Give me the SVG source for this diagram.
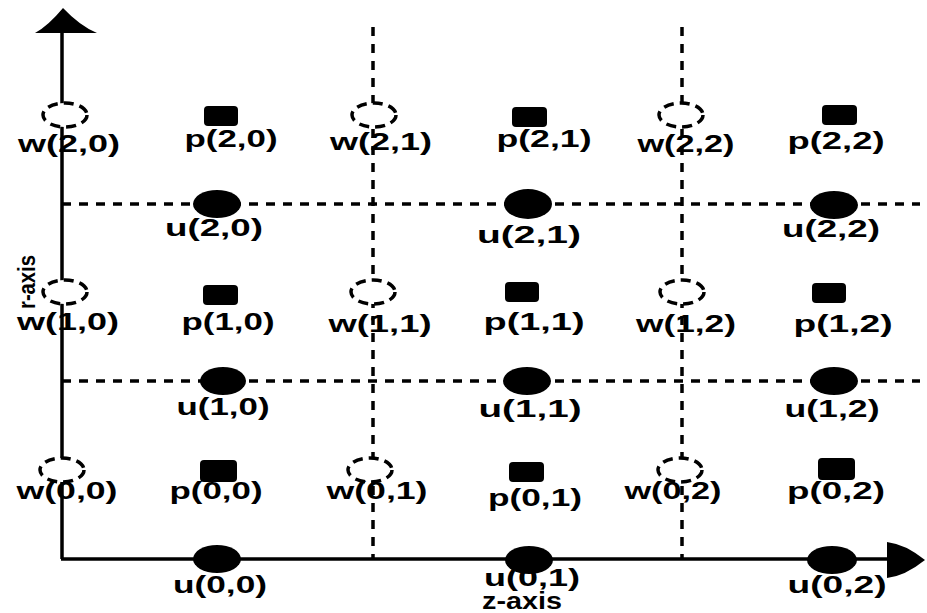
<svg xmlns="http://www.w3.org/2000/svg" width="927" height="613" viewBox="0 0 927 613">
<style>
.axis{stroke:#000;stroke-width:3.5;fill:none}
.grid{stroke:#000;stroke-width:3.5;fill:none;stroke-dasharray:9 8}
.w{fill:#fff;stroke:#000;stroke-width:3.5;stroke-dasharray:10 6}
.p{fill:#000}
.u{fill:#000}
.lbl{font-family:"Liberation Sans",Arial,sans-serif;font-size:23px;font-weight:bold;fill:#000;text-anchor:middle}
.head{fill:#000}
</style>
<rect width="927" height="613" fill="#fff"/>
<g id="connectors">
  <line class="grid" x1="373" y1="27" x2="373" y2="559"/>
  <line class="grid" x1="682" y1="27" x2="682" y2="559"/>
  <line class="grid" x1="62" y1="204" x2="920" y2="204"/>
  <line class="grid" x1="62" y1="381" x2="920" y2="381"/>
  <line class="axis" x1="62" y1="30" x2="62" y2="559"/>
  <line class="axis" x1="61" y1="559" x2="892" y2="559"/>
  <path class="head" d="M63,8 Q80,26 97,33 L35,33 Q48,26 63,8 Z"/>
  <path class="head" d="M925,560 Q905,544 887,542 L887,578 Q905,576 925,560 Z"/>
</g>
<g id="r-axis"><text class="lbl" font-size="24" transform="translate(35,282) rotate(-90)" textLength="54" lengthAdjust="spacingAndGlyphs">r-axis</text></g>
<g id="z-axis"><text class="lbl" font-size="16" x="522" y="609" textLength="80" lengthAdjust="spacingAndGlyphs">z-axis</text></g>

<g id="w20"><ellipse class="w" cx="65" cy="115" rx="22" ry="12"/><text class="lbl" x="69" y="152" textLength="102" lengthAdjust="spacingAndGlyphs">w(2,0)</text></g>
<g id="p20"><rect class="p" x="204" y="106" width="34" height="20" rx="4"/><text class="lbl" x="231" y="147" textLength="93" lengthAdjust="spacingAndGlyphs">p(2,0)</text></g>
<g id="w21"><ellipse class="w" cx="374" cy="115" rx="22" ry="12"/><text class="lbl" x="381" y="150" textLength="102" lengthAdjust="spacingAndGlyphs">w(2,1)</text></g>
<g id="p21"><rect class="p" x="512" y="107" width="35" height="20" rx="4"/><text class="lbl" x="544" y="147" textLength="95" lengthAdjust="spacingAndGlyphs">p(2,1)</text></g>
<g id="w22"><ellipse class="w" cx="681" cy="115" rx="22" ry="12"/><text class="lbl" x="686" y="152" textLength="97" lengthAdjust="spacingAndGlyphs">w(2,2)</text></g>
<g id="p22"><rect class="p" x="822" y="105" width="35" height="20" rx="4"/><text class="lbl" x="836" y="149" textLength="97" lengthAdjust="spacingAndGlyphs">p(2,2)</text></g>
<g id="u20"><ellipse class="u" cx="217" cy="204" rx="24" ry="14"/><text class="lbl" x="214" y="236" textLength="98" lengthAdjust="spacingAndGlyphs">u(2,0)</text></g>
<g id="u21"><ellipse class="u" cx="528" cy="204" rx="24" ry="15"/><text class="lbl" x="529" y="243" textLength="104" lengthAdjust="spacingAndGlyphs">u(2,1)</text></g>
<g id="u22"><ellipse class="u" cx="834" cy="205" rx="24" ry="14"/><text class="lbl" x="831" y="237" textLength="98" lengthAdjust="spacingAndGlyphs">u(2,2)</text></g>

<g id="w10"><ellipse class="w" cx="65" cy="292" rx="22" ry="12"/><text class="lbl" x="68" y="330" textLength="102" lengthAdjust="spacingAndGlyphs">w(1,0)</text></g>
<g id="p10"><rect class="p" x="203" y="285" width="35" height="20" rx="4"/><text class="lbl" x="228" y="330" textLength="93" lengthAdjust="spacingAndGlyphs">p(1,0)</text></g>
<g id="w11"><ellipse class="w" cx="373" cy="292" rx="22" ry="12"/><text class="lbl" x="380" y="332" textLength="103" lengthAdjust="spacingAndGlyphs">w(1,1)</text></g>
<g id="p11"><rect class="p" x="505" y="282" width="34" height="20" rx="4"/><text class="lbl" x="534" y="330" textLength="101" lengthAdjust="spacingAndGlyphs">p(1,1)</text></g>
<g id="w12"><ellipse class="w" cx="682" cy="292" rx="22" ry="12"/><text class="lbl" x="686" y="332" textLength="100" lengthAdjust="spacingAndGlyphs">w(1,2)</text></g>
<g id="p12"><rect class="p" x="812" y="283" width="34" height="20" rx="4"/><text class="lbl" x="843" y="332" textLength="99" lengthAdjust="spacingAndGlyphs">p(1,2)</text></g>
<g id="u10"><ellipse class="u" cx="223" cy="381" rx="23" ry="14"/><text class="lbl" x="223" y="415" textLength="93" lengthAdjust="spacingAndGlyphs">u(1,0)</text></g>
<g id="u11"><ellipse class="u" cx="527" cy="381" rx="24" ry="14"/><text class="lbl" x="530" y="417" textLength="103" lengthAdjust="spacingAndGlyphs">u(1,1)</text></g>
<g id="u12"><ellipse class="u" cx="834" cy="381" rx="24" ry="14"/><text class="lbl" x="832" y="417" textLength="95" lengthAdjust="spacingAndGlyphs">u(1,2)</text></g>

<g id="w00"><ellipse class="w" cx="62" cy="470" rx="22" ry="12"/><text class="lbl" x="67" y="499" textLength="101" lengthAdjust="spacingAndGlyphs">w(0,0)</text></g>
<g id="p00"><rect class="p" x="200" y="460" width="37" height="22" rx="4"/><text class="lbl" x="216" y="499" textLength="93" lengthAdjust="spacingAndGlyphs">p(0,0)</text></g>
<g id="w01"><ellipse class="w" cx="370" cy="470" rx="22" ry="12"/><text class="lbl" x="377" y="499" textLength="101" lengthAdjust="spacingAndGlyphs">w(0,1)</text></g>
<g id="p01"><rect class="p" x="509" y="462" width="35" height="20" rx="4"/><text class="lbl" x="535" y="506" textLength="94" lengthAdjust="spacingAndGlyphs">p(0,1)</text></g>
<g id="w02"><ellipse class="w" cx="680" cy="470" rx="22" ry="12"/><text class="lbl" x="673" y="499" textLength="97" lengthAdjust="spacingAndGlyphs">w(0,2)</text></g>
<g id="p02"><rect class="p" x="818" y="458" width="37" height="22" rx="4"/><text class="lbl" x="836" y="499" textLength="98" lengthAdjust="spacingAndGlyphs">p(0,2)</text></g>
<g id="u00"><ellipse class="u" cx="217" cy="559" rx="24" ry="14"/><text class="lbl" x="220" y="593" textLength="94" lengthAdjust="spacingAndGlyphs">u(0,0)</text></g>
<g id="u01"><ellipse class="u" cx="529" cy="560" rx="24" ry="14"/><text class="lbl" font-size="21" x="532" y="586" textLength="96" lengthAdjust="spacingAndGlyphs">u(0,1)</text></g>
<g id="u02"><ellipse class="u" cx="832" cy="560" rx="25" ry="14"/><text class="lbl" x="837" y="593" textLength="99" lengthAdjust="spacingAndGlyphs">u(0,2)</text></g>
</svg>
